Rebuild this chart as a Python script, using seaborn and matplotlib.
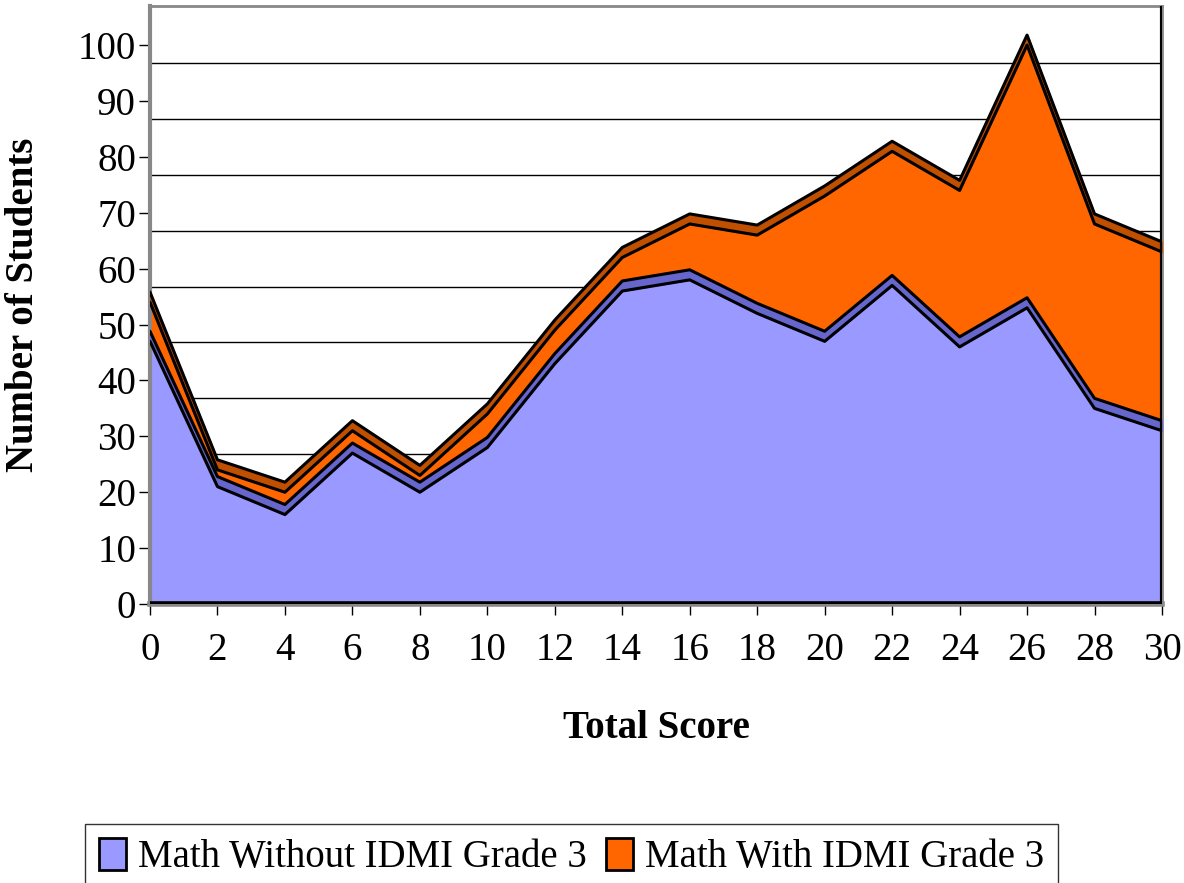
import numpy as np
import pandas as pd
import seaborn as sns
import matplotlib.pyplot as plt
from matplotlib.patches import Patch

scores = [0, 2, 4, 6, 8, 10, 12, 14, 16, 18, 20, 22, 24, 26, 28, 30]
without_idmi = [47, 21, 16, 27, 20, 28, 43, 56, 58, 52, 47, 57, 46, 53, 35, 31]
with_idmi = [7, 3, 4, 4, 3, 6, 6, 6, 10, 14, 26, 24, 28, 47, 33, 32]

BLUE = '#9999ff'
BLUE_TOP = '#6666cc'
ORANGE = '#ff6600'
ORANGE_TOP = '#c04f00'
DEPTH = 1.8

sns.set_style('white')
plt.rcParams['font.family'] = ['Liberation Serif', 'DejaVu Serif']
plt.rcParams['text.color'] = 'black'
plt.rcParams['axes.labelcolor'] = 'black'

df = pd.DataFrame({'score': scores, 'without': without_idmi, 'with': with_idmi})
df['total'] = df['without'] + df['with']

fig = plt.figure(figsize=(11.84, 8.83), dpi=100)
ax = fig.add_axes([150 / 1184, 1 - 604 / 883, 1012 / 1184, 598 / 883])

# back wall gridlines (drawn a bit lower, like the 3D wall)
for v in range(10, 101, 10):
    ax.axhline(v - 3.2, color='black', lw=1.0, zorder=1)

x = df['score']
ax.fill_between(x, 0, df['without'], color=BLUE, zorder=2)
ax.fill_between(x, df['without'], df['without'] + DEPTH, color=BLUE_TOP, zorder=3)
ax.fill_between(x, df['without'] + DEPTH, df['total'], color=ORANGE, zorder=2)
ax.fill_between(x, df['total'], df['total'] + DEPTH, color=ORANGE_TOP, zorder=3)

for col, off in [('without', 0), ('without', DEPTH), ('total', 0), ('total', DEPTH)]:
    sns.lineplot(x=x, y=df[col] + off, color='black', lw=2.2, ax=ax, zorder=4)

ax.set_xlim(0, 30)
ax.set_ylim(0, 107)
ax.set_xticks(scores)
ax.set_yticks(range(0, 101, 10))
ax.tick_params(axis='both', labelsize=28, direction='out', length=8, width=1,
               colors='black', left=True, bottom=True)
ax.tick_params(axis='x', pad=12)
ax.tick_params(axis='y', pad=2)

ax.axvline(30, color='black', lw=3, zorder=5)
ax.axhline(0, color='black', lw=4, zorder=5)
for s in ['top', 'right']:
    ax.spines[s].set_color('#888888')
    ax.spines[s].set_linewidth(2)
ax.spines['left'].set_color('#888888')
ax.spines['left'].set_linewidth(3)
ax.spines['bottom'].set_color('#888888')
ax.spines['bottom'].set_linewidth(4)

ax.set_xlabel('Total Score', fontsize=28, fontweight='bold', labelpad=30)
ax.set_ylabel('Number of Students', fontsize=28, fontweight='bold', labelpad=26)

handles = [Patch(facecolor=BLUE, edgecolor='black', lw=2),
           Patch(facecolor=ORANGE, edgecolor='black', lw=2)]
fig.legend(handles, ['Math Without IDMI Grade 3', 'Math With IDMI Grade 3'],
           loc='lower left', bbox_to_anchor=(66 / 1184, -0.03), ncol=2,
           fontsize=28, frameon=True, fancybox=False, edgecolor='black',
           handlelength=0.7, handleheight=0.9, handletextpad=0.3,
           columnspacing=0.5, borderpad=0.35)

fig.savefig('out.png', dpi=100)
